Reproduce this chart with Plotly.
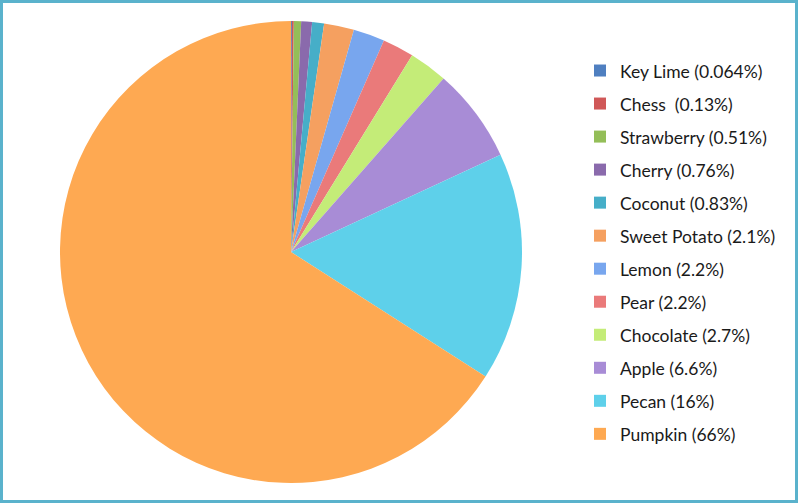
import plotly.graph_objects as go

# pie slices, in drawing order (clockwise from 12 o'clock)
pies = ["Key Lime", "Chess ", "Strawberry", "Cherry", "Coconut", "Sweet Potato",
        "Lemon", "Pear", "Chocolate", "Apple", "Pecan", "Pumpkin"]
share = [0.064, 0.13, 0.51, 0.76, 0.83, 2.1, 2.2, 2.2, 2.7, 6.6, 16, 66]
share_text = ["0.064", "0.13", "0.51", "0.76", "0.83", "2.1",
              "2.2", "2.2", "2.7", "6.6", "16", "66"]
colors = ["#4f7fc0", "#d05858", "#94be58", "#8a6aac", "#46aec8", "#f5a060",
          "#78a6ee", "#ea7a7a", "#c4ec78", "#a88cd6", "#5ed0ea", "#fea952"]

W, H = 798, 503
cx, cy, rad = 291, 252, 231

labels = [f"<span style='font-size:17.5px;baseline-shift:2px'>{p.replace(' ', '&nbsp;')} ({t}%)</span>"
          for p, t in zip(pies, share_text)]

fig = go.Figure(go.Pie(
    labels=labels, values=share, sort=False, direction="clockwise", rotation=0,
    marker=dict(colors=colors, line=dict(width=0)),
    textinfo="none", hoverinfo="skip",
    domain=dict(x=[(cx - rad) / W, (cx + rad) / W],
                y=[(H - cy - rad) / H, (H - cy + rad) / H]),
))

# teal frame round the chart
fig.add_shape(type="rect", xref="paper", yref="paper",
              x0=1.5 / W, x1=1 - 1.5 / W, y0=1.5 / H, y1=1 - 1.5 / H,
              line=dict(color="#5ab2cc", width=3))

fig.update_layout(
    width=W, height=H, margin=dict(l=0, r=0, t=0, b=0),
    paper_bgcolor="white", plot_bgcolor="white",
    font=dict(family="Lato, 'Open Sans', sans-serif", color="#1a1a1a"),
    legend=dict(x=580 / W, y=1 - 49 / H, xanchor="left", yanchor="top",
                font=dict(size=23.1, color="#1a1a1a"), bgcolor="rgba(0,0,0,0)"),
    showlegend=True,
)

fig.write_html("out.html", config={"displayModeBar": False},
               post_script="document.body.style.margin='0';")
